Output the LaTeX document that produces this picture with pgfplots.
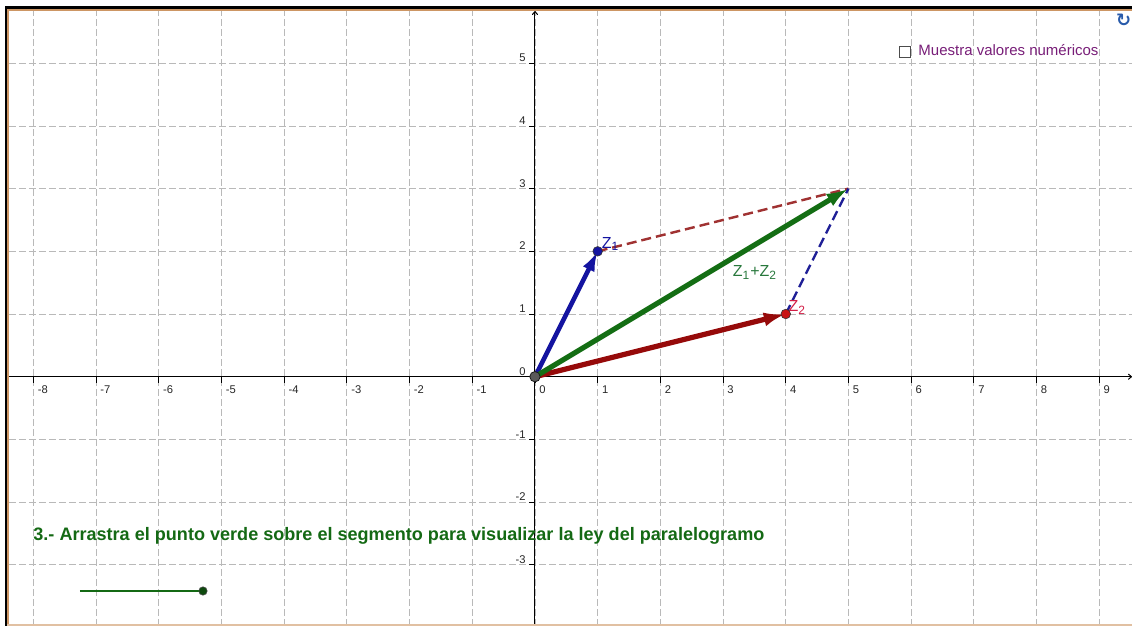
\documentclass[border=0pt]{standalone}
\usepackage{pgfplots}
\pgfplotsset{compat=1.18}
\usepackage{fontspec}
\setmainfont{Liberation Sans}
\newfontfamily\symfont{DejaVu Sans}
\usetikzlibrary{arrows.meta}
\definecolor{zblue}{RGB}{20,20,160}
\definecolor{zgreen}{RGB}{20,110,20}
\definecolor{zred}{RGB}{150,10,10}
\definecolor{ptred}{RGB}{200,20,20}
\definecolor{lblred}{RGB}{210,30,70}
\definecolor{lblgreen}{RGB}{40,120,60}
\definecolor{txtgreen}{RGB}{20,105,20}
\definecolor{purp}{RGB}{120,30,120}
\definecolor{brown}{RGB}{160,50,50}
\definecolor{dblue}{RGB}{30,30,150}
\definecolor{frameor}{RGB}{205,150,100}
\definecolor{iconblue}{RGB}{40,90,170}
\begin{document}
\begin{tikzpicture}
\useasboundingbox (0,0) rectangle (566pt,313pt);
\begin{axis}[
  at={(4.5pt,0pt)}, anchor=south west,
  scale only axis, width=561.5pt, height=307.5pt,
  xmin=-8.389, xmax=9.522, ymin=-3.976, ymax=5.833,
  axis lines=middle,
  axis line style={black, line width=0.5pt, -{To[length=2pt,width=3pt]}},
  xtick={-8,...,9}, ytick={-3,...,5},
  hide obscured x ticks=false, hide obscured y ticks=false,
  tick align=outside, major tick length=3pt,
  tick style={black, line width=0.4pt},
  grid=major,
  major grid style={gray!55, dash pattern=on 3.5pt off 1.5pt, line width=0.4pt},
  /pgf/number format/assume math mode=true,
  ticklabel style={font=\fontsize{5.6}{6.5}\selectfont, text=black!85},
  xticklabel style={anchor=north west, inner sep=0pt, xshift=2pt, yshift=-1.5pt},
  yticklabel style={anchor=south east, inner sep=0pt, xshift=-1.5pt, yshift=0.5pt},
  clip=false,
]
% parallelogram dashed sides
\addplot[brown, line width=1.2pt, dash pattern=on 5pt off 2.5pt] coordinates {(1,2) (5,3)};
\addplot[dblue, line width=1.2pt, dash pattern=on 5pt off 2.5pt] coordinates {(4,1) (5,3)};
% vectors
\addplot[zblue, line width=2.3pt, -{Latex[length=10pt,width=6.5pt]}] coordinates {(0,0) (1,2)};
\addplot[zred, line width=2.6pt, -{Latex[length=11pt,width=7pt]}] coordinates {(0,0) (4,1)};
\addplot[zgreen, line width=2.6pt, -{Latex[length=11pt,width=7pt]}] coordinates {(0,0) (5,3)};
% points
\addplot[only marks, mark=*, mark size=2.4pt, mark options={fill=zblue, draw=black!80, line width=0.3pt}] coordinates {(1,2)};
\addplot[only marks, mark=*, mark size=2.4pt, mark options={fill=ptred, draw=black!80, line width=0.3pt}] coordinates {(4,1)};
\addplot[only marks, mark=*, mark size=2.6pt, mark options={fill=black!65, draw=black!90, line width=0.4pt}] coordinates {(0,0)};
% slider
\addplot[txtgreen, line width=1.4pt] coordinates {(-7.257,-3.418) (-5.295,-3.418)};
\addplot[only marks, mark=*, mark size=2.1pt, mark options={fill=txtgreen!70!black, draw=black!70, line width=0.3pt}] coordinates {(-5.295,-3.418)};
% labels
\node[anchor=south west, inner sep=0pt, text=zblue, font=\fontsize{8}{9}\selectfont] at (axis cs:1.06,2.0) {Z\textsubscript{1}};
\node[anchor=south west, inner sep=0pt, text=lblred, font=\fontsize{8}{9}\selectfont] at (axis cs:4.04,0.98) {Z\textsubscript{2}};
\node[anchor=base west, inner sep=0pt, text=lblgreen, font=\fontsize{8}{9}\selectfont] at (axis cs:3.15,1.6) {Z\textsubscript{1}+Z\textsubscript{2}};
\node[anchor=base west, inner sep=0pt, text=txtgreen, font=\bfseries] at (axis cs:-8.006,-2.62) {\resizebox{365.5pt}{!}{3.- Arrastra el punto verde sobre el segmento para visualizar la ley del paralelogramo}};
% checkbox
\draw[black!70, line width=0.4pt, fill=white] (axis cs:5.805,5.10) rectangle (axis cs:5.98,5.275);
\node[anchor=base west, inner sep=0pt, text=purp, font=\fontsize{7.5}{9}\selectfont] at (axis cs:6.11,5.12) {Muestra valores numéricos};
\node[anchor=center, inner sep=0pt, text=iconblue, font=\symfont\bfseries\fontsize{9}{10}\selectfont] at (axis cs:9.39,5.69) {↻};
\end{axis}
% frame
\draw[frameor, line width=1pt] (4pt,0) -- (4pt,308pt) -- (566pt,308pt);
\draw[frameor!60, line width=1pt] (3.5pt,0.5pt) -- (566pt,0.5pt);
\draw[black, line width=1.25pt] (2.875pt,0) -- (2.875pt,309.25pt) -- (566pt,309.25pt);
\end{tikzpicture}
\end{document}
